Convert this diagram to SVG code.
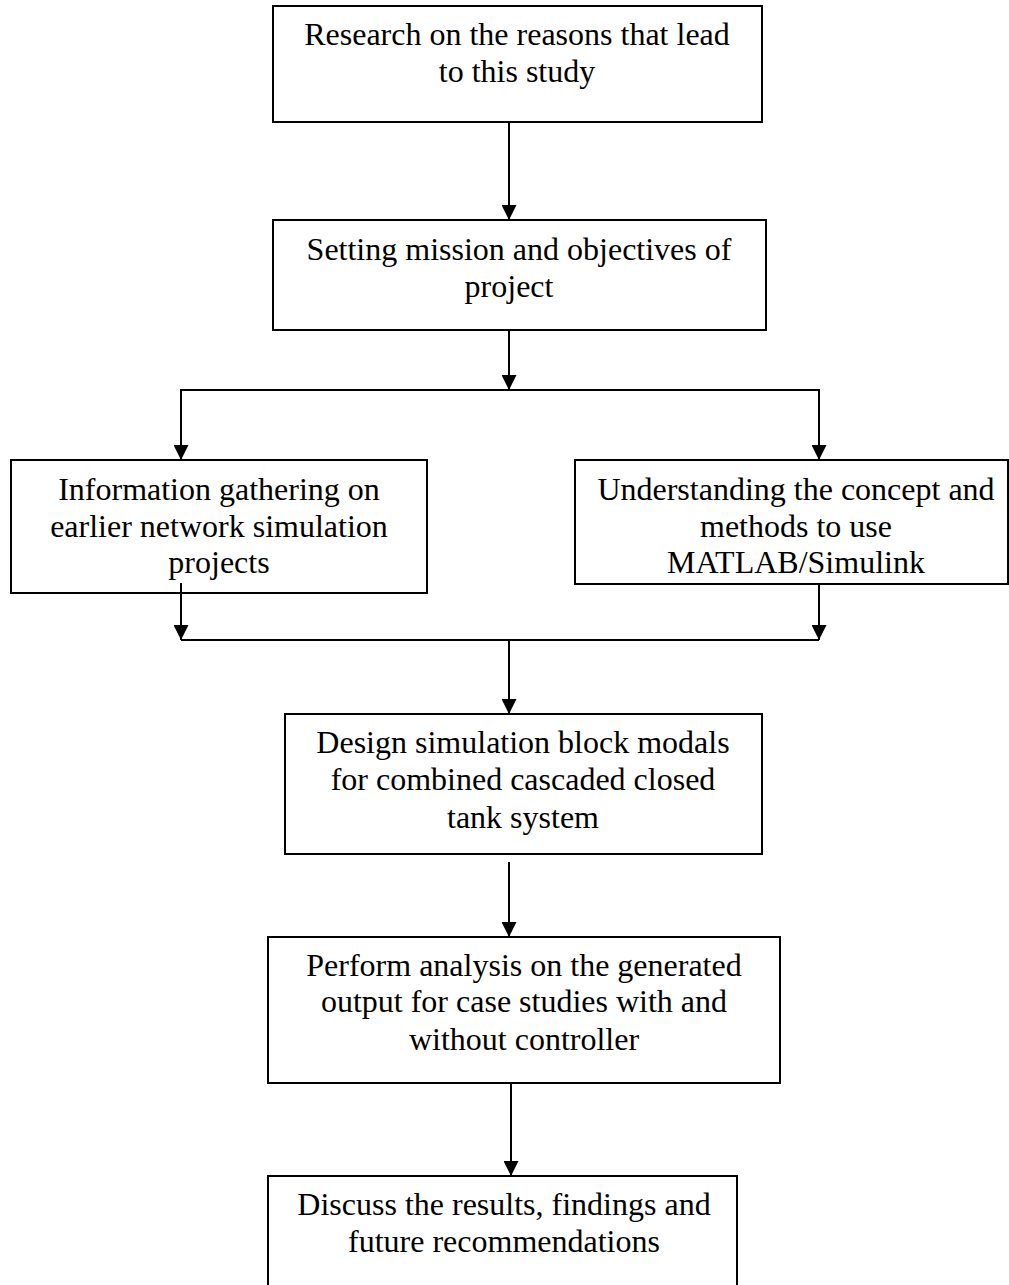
<svg xmlns="http://www.w3.org/2000/svg" width="1009" height="1285" viewBox="0 0 1009 1285">
<style>
.box{fill:#fff;stroke:#000;stroke-width:2}
.t{font-family:"Liberation Serif","Times New Roman",serif;font-size:32px;fill:#000;text-anchor:middle}
.c{fill:none;stroke:#000;stroke-width:2}
</style>
<defs>
<marker id="ah" markerUnits="userSpaceOnUse" markerWidth="15" markerHeight="15" refX="15" refY="7.5" orient="auto">
<path d="M0,0 L15,7.5 L0,15 z" fill="#000"/>
</marker>
</defs>
<rect width="1009" height="1285" fill="#fff"/>
<g id="n1">
<rect class="box" x="273" y="6" width="489" height="116"/>
<text class="t" x="517" y="45">Research on the reasons that lead</text>
<text class="t" x="517" y="82">to this study</text>
</g>
<g id="n2">
<rect class="box" x="273" y="220" width="493" height="110"/>
<text class="t" x="519" y="260">Setting mission and objectives of</text>
<text class="t" x="509" y="297">project</text>
</g>
<g id="n3">
<rect class="box" x="11" y="460" width="416" height="133"/>
<text class="t" x="219" y="500">Information gathering on</text>
<text class="t" x="219" y="537">earlier network simulation</text>
<text class="t" x="219" y="573">projects</text>
</g>
<g id="n4">
<rect class="box" x="575" y="460" width="433" height="124"/>
<text class="t" x="796" y="500">Understanding the concept and</text>
<text class="t" x="796" y="537">methods to use</text>
<text class="t" x="796" y="573">MATLAB/Simulink</text>
</g>
<g id="n5">
<rect class="box" x="285" y="714" width="477" height="140"/>
<text class="t" x="523" y="753">Design simulation block modals</text>
<text class="t" x="523" y="790">for combined cascaded closed</text>
<text class="t" x="523" y="828">tank system</text>
</g>
<g id="n6">
<rect class="box" x="268" y="937" width="512" height="146"/>
<text class="t" x="524" y="976">Perform analysis on the generated</text>
<text class="t" x="524" y="1012">output for case studies with and</text>
<text class="t" x="524" y="1050">without controller</text>
</g>
<g id="n7">
<rect class="box" x="268" y="1176" width="469" height="120"/>
<text class="t" x="504" y="1215">Discuss the results, findings and</text>
<text class="t" x="504" y="1252">future recommendations</text>
</g>
<g id="connectors">
<line class="c" x1="509" y1="122" x2="509" y2="220" marker-end="url(#ah)"/>
<line class="c" x1="509" y1="330" x2="509" y2="390" marker-end="url(#ah)"/>
<line class="c" x1="181" y1="390" x2="819" y2="390"/>
<line class="c" x1="181" y1="389" x2="181" y2="460" marker-end="url(#ah)"/>
<line class="c" x1="819" y1="389" x2="819" y2="460" marker-end="url(#ah)"/>
<line class="c" x1="181" y1="583" x2="181" y2="640" marker-end="url(#ah)"/>
<line class="c" x1="819" y1="584" x2="819" y2="640" marker-end="url(#ah)"/>
<line class="c" x1="181" y1="640" x2="819" y2="640"/>
<line class="c" x1="509" y1="640" x2="509" y2="714" marker-end="url(#ah)"/>
<line class="c" x1="509" y1="862" x2="509" y2="937" marker-end="url(#ah)"/>
<line class="c" x1="511" y1="1083" x2="511" y2="1176" marker-end="url(#ah)"/>
</g>
</svg>
